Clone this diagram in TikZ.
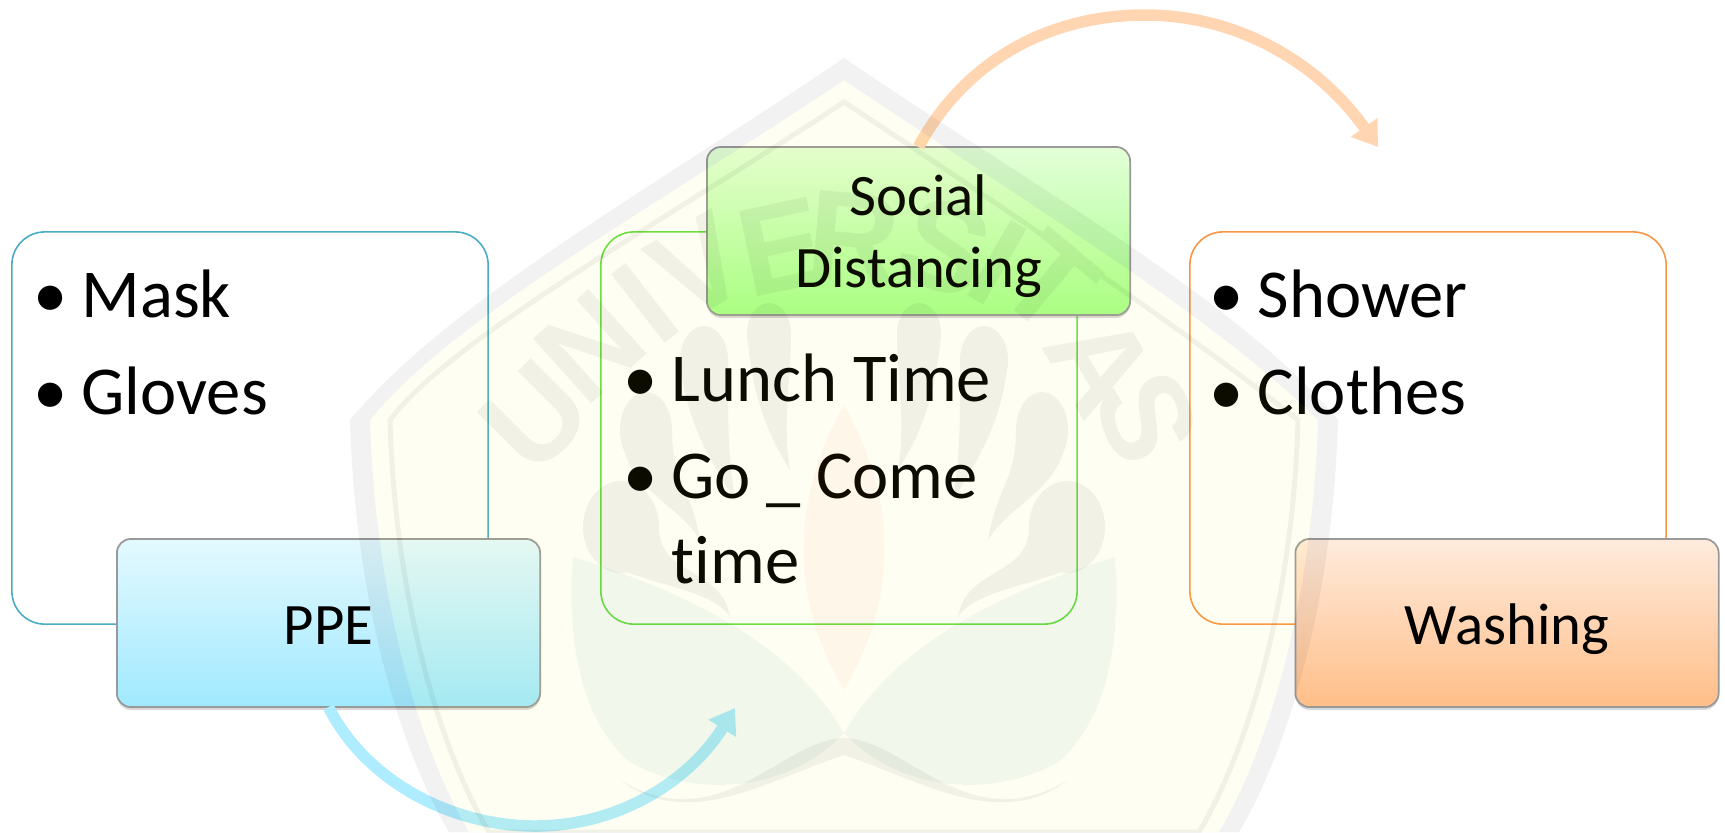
\documentclass[tikz,border=0pt]{standalone}
\usepackage{fontspec}
\setmainfont{Carlito}[Ligatures=NoCommon]
\setsansfont{Liberation Sans}
\usetikzlibrary{arrows.meta,shadows,positioning}
\definecolor{ppeline}{HTML}{4BACC6}
\definecolor{ppetop}{HTML}{E4F9FF}
\definecolor{ppebot}{HTML}{A0E9FF}
\definecolor{socline}{HTML}{66DD44}
\definecolor{soctop}{HTML}{E3FFD8}
\definecolor{socbot}{HTML}{A6FF8A}
\definecolor{wasline}{HTML}{F79646}
\definecolor{wastop}{HTML}{FFEBDD}
\definecolor{wasbot}{HTML}{FFBE88}
\newcommand{\itembullet}{\llap{\textbullet\hspace{0.14cm}}}
\newcommand{\shieldpath}[1]{(844,{58+1.1*#1}) .. controls (650,{190+#1}) and (450,{300+#1}) .. ({350+#1},420)
  .. controls ({355+#1},600) and ({400+#1},750) .. ({449+#1},832) -- ({1239-#1},832)
  .. controls ({1288-#1},750) and ({1333-#1},600) .. ({1338-#1},420)
  .. controls ({1238-#1},{300+#1}) and (1038,{190+#1}) .. cycle}
\begin{document}
\begin{tikzpicture}
[x=0.01cm,y=-0.01cm,
  listdecorate/.style={shape=rectangle,draw,line width=0.45pt,rounded corners=0.33cm,
    minimum width=4.76cm,minimum height=3.92cm,outer sep=0pt},
  headdecorate/.style={shape=rectangle,draw=black!40,line width=0.5pt,rounded corners=0.14cm,
    minimum width=4.23cm,minimum height=1.68cm,outer sep=0pt,align=center,text depth=0pt,
    font=\fontsize{16.7}{20.3}\selectfont,
    drop shadow={shadow xshift=0pt,shadow yshift=-0.8pt,opacity=0.3}},
  itemdecorate/.style={anchor=base west,inner sep=0pt,font=\fontsize{19.5}{23}\selectfont},
  arcdecorate/.style={line width=0.115cm,-{Triangle[length=0.24cm,width=0.31cm]}},
  letterdecorate/.style={text=black,font=\bfseries\sffamily\fontsize{36}{36}\selectfont}]
\useasboundingbox (0,0) rectangle (1725,832);
\fill[white] (0,0) rectangle (1725,832);
%% list boxes
\foreach \nodename/\x/\linecol in {ppelist/250/ppeline, soclist/839/socline, waslist/1428/wasline} {
  \node (\nodename) at (\x,428) [listdecorate,draw=\linecol] {};
}
%% heading boxes
\foreach \nodename/\x/\y/\hgt/\topcol/\botcol/\txt in {ppe/328.5/623/12/ppetop/ppebot/PPE,
  soc/918.5/231/32/soctop/socbot/{Social\\Distancing}, was/1507/623/12/wastop/wasbot/Washing} {
  \node (\nodename) at (\x,\y) [headdecorate,text height=\hgt pt,top color=\topcol,bottom color=\botcol] {\txt};
}
%% list items
\foreach \nodename/\x/\y/\txt in {mask/81/317/Mask, gloves/81/414/Gloves,
  lunch/671/401/Lunch Time, go/671/498/Go \_ Come, shower/1257/317/Shower, clothes/1257/414/Clothes} {
  \node (\nodename) at (\x,\y) [itemdecorate] {\itembullet\txt};
}
\node (timeword) at (671,583) [itemdecorate] {time};
%% free ends of the arcs
\coordinate (ppeend) at (735,708);
\coordinate (socend) at (1378,147);
%% arcs
\draw[arcdecorate,color=ppebot!85!white] (ppe.south) .. controls (365,780) and (450,826) .. (535,826)
  .. controls (620,826) and (690,780) .. (ppeend);
\draw[arcdecorate,color=wasbot!65!white] (soc.north) .. controls (965,60) and (1050,15) .. (1145,15)
  .. controls (1240,15) and (1320,65) .. (socend);
%% watermark, laid thinly over everything
\fill[yellow,fill opacity=0.05] \shieldpath{20};
\fill[teal,fill opacity=0.05] (844,733) .. controls (790,640) and (680,590) .. (573,557)
  .. controls (565,660) and (590,730) .. (631,763) .. controls (700,800) and (790,790) .. cycle;
\fill[teal,fill opacity=0.05] (844,733) .. controls (898,640) and (1008,590) .. (1115,557)
  .. controls (1123,660) and (1098,730) .. (1057,763) .. controls (988,800) and (898,790) .. cycle;
\fill[red,fill opacity=0.03] (844,690) .. controls (790,600) and (790,500) .. (844,405)
  .. controls (898,500) and (898,600) .. cycle;
\begin{scope}[transparency group,opacity=0.05]
\fill[black,even odd rule] \shieldpath{0} \shieldpath{20};
\draw[black,line width=0.05cm] \shieldpath{40};
\fill[black] (620,780) .. controls (720,840) and (780,740) .. (844,738)
  .. controls (908,740) and (968,840) .. (1068,780) .. controls (1000,832) and (920,780) .. (844,755)
  .. controls (768,780) and (688,832) .. cycle;
%% figures
\foreach \side in {1,-1} {
  \begin{scope}[shift={(844,0)},xscale=\side]
  \foreach \x/\y/\ex/\ey/\tx/\ty in {-75/333/22/30/-54/470, -140/360/24/34/-109/500, -198/430/26/38/-144/540, -223/527/38/46/-114/617} {
    \fill[black] (\x,\y) ellipse [x radius=\ex,y radius=\ey];
    \fill[black] ({\x-\ex},\y) .. controls ({\x-\ex+5},{\y+60}) and ({\tx-25},{\ty-40}) .. (\tx,\ty)
      .. controls ({\tx-8},{\ty-50}) and ({\x+\ex},{\y+50}) .. ({\x+\ex},\y) -- cycle;
  }
  \end{scope}
}
%% letters
\foreach \nodename/\x/\y/\ang/\txt in {mu/535/417/45/U, mn/590/347/42/N, mi/646/303/38/I, mv/698/267/30/V,
  me/782/247/12/E, mr/854/237/-5/R, ms/945/247/-20/S, mj/997/263/-30/I, mt/1049/283/-40/T,
  ma/1101/363/-60/A, mz/1147/417/-70/S} {
  \node (\nodename) at (\x,\y) [letterdecorate,rotate=\ang] {\txt};
}
\end{scope}
\end{tikzpicture}
\end{document}
